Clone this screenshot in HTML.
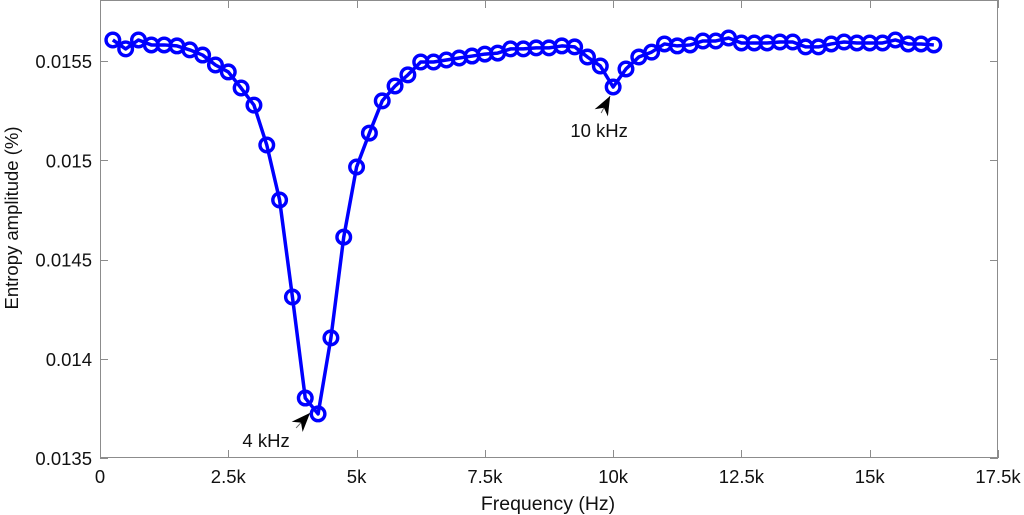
<!DOCTYPE html>
<html><head><meta charset="utf-8"><style>
html,body{margin:0;padding:0;background:#fff;}
svg{display:block;font-family:"Liberation Sans",Arial,sans-serif;}
</style></head><body>
<svg id="chart" width="1024" height="515"></svg>
<script>
const freqs=[250,500,750,1000,1250,1500,1750,2000,2250,2500,2750,3000,3250,3500,3750,4000,4250,4500,4750,5000,5250,5500,5750,6000,6250,6500,6750,7000,7250,7500,7750,8000,8250,8500,8750,9000,9250,9500,9750,10000,10250,10500,10750,11000,11250,11500,11750,12000,12250,12500,12750,13000,13250,13500,13750,14000,14250,14500,14750,15000,15250,15500,15750,16000,16250];
const values=[0.015606,0.015561,0.015606,0.015581,0.015581,0.015576,0.015556,0.015530,0.015480,0.015445,0.015364,0.015278,0.015077,0.014800,0.014311,0.013802,0.013722,0.014105,0.014613,0.014966,0.015137,0.015299,0.015374,0.015430,0.015495,0.015495,0.015505,0.015515,0.015525,0.015535,0.015540,0.015561,0.015561,0.015566,0.015566,0.015576,0.015571,0.015520,0.015475,0.015369,0.015460,0.015520,0.015545,0.015586,0.015576,0.015581,0.015601,0.015601,0.015616,0.015591,0.015591,0.015591,0.015596,0.015596,0.015571,0.015571,0.015586,0.015596,0.015591,0.015591,0.015591,0.015606,0.015586,0.015586,0.015581];
const xTicks=[0,2500,5000,7500,10000,12500,15000,17500];
const xTickLabels=["0","2.5k","5k","7.5k","10k","12.5k","15k","17.5k"];
const yTicks=[0.0135,0.014,0.0145,0.015,0.0155];
const yTickLabels=["0.0135","0.014","0.0145","0.015","0.0155"];
const annotations=[{f:4250,v:0.013722,label:"4 kHz"},{f:10000,v:0.015369,label:"10 kHz"}];
const annotationOffsets=[{tip:[-8,-1],tail:[-22,14],text:[-52,33]},{tip:[-3,9],tail:[-12,26],text:[-14,50]}];

const NS="http://www.w3.org/2000/svg";
const svg=document.getElementById('chart');
const L=100,R=998,T=0,B=458;
const xMin=0,xMax=17500,yMin=0.0135,yMax=0.0158074;
const X=f=>L+(f-xMin)/(xMax-xMin)*(R-L);
const Y=v=>B-(v-yMin)/(yMax-yMin)*(B-T);
function mk(tag,attrs,parent){const e=document.createElementNS(NS,tag);for(const k in attrs)e.setAttribute(k,attrs[k]);(parent||svg).appendChild(e);return e;}

const frame=mk('rect',{x:L+0.5,y:T+0.5,width:R-L-1,height:B-T-1,fill:'none',stroke:'#8c8c8c','stroke-width':1});



xTicks.forEach((t,i)=>{
  const x=Math.round(X(t))+0.5;
  const tk=mk('path',{d:`M${x},${B}v-8M${x},${T}v8`,stroke:'#8c8c8c'});
  
  
  const tx=mk('text',{x:X(t),y:483,'font-size':18.5,'text-anchor':'middle',fill:'#111'});
  tx.textContent=xTickLabels[i];
  
  
});
yTicks.forEach((t,i)=>{
  const y=Math.round(Y(t))+0.5;
  const tk=mk('path',{d:`M${L},${y}h8M${R},${y}h-8`,stroke:'#8c8c8c'});
  
  
  const tx=mk('text',{x:92,y:Y(t)+7,'font-size':18.5,'text-anchor':'end',fill:'#111'});
  tx.textContent=yTickLabels[i];
  
  
});

const xl=mk('text',{x:548,y:510,'font-size':19.5,'text-anchor':'middle',fill:'#111'});
xl.textContent='Frequency (Hz)';


const yl=mk('text',{x:0,y:0,'font-size':18.5,'text-anchor':'middle',fill:'#111',transform:'translate(18,218) rotate(-90)'});
yl.textContent='Entropy amplitude (%)';



const line=mk('polyline',{points:freqs.map((f,i)=>X(f)+','+Y(values[i])).join(' '),fill:'none',stroke:'#0000ff','stroke-width':3.5,'stroke-linejoin':'round'});


freqs.forEach((f,i)=>{
  const c=mk('circle',{cx:X(f),cy:Y(values[i]),r:6.8,fill:'none',stroke:'#0000ff','stroke-width':3.4});
  
  
});

annotations.forEach((a,i)=>{
  const px=X(a.f),py=Y(a.v),o=annotationOffsets[i];
  const tx=px+o.tip[0],ty=py+o.tip[1],bx=px+o.tail[0],by=py+o.tail[1];
  const g=mk('g',{});
  
  
  mk('line',{x1:tx,y1:ty,x2:bx,y2:by,stroke:'#666','stroke-width':1},g);
  const dx=bx-tx,dy=by-ty,len=Math.hypot(dx,dy),ux=dx/len,uy=dy/len,nx=-uy,ny=ux;
  const hl=19,hw=7.5;
  const p1=[tx+ux*hl+nx*hw,ty+uy*hl+ny*hw],p2=[tx+ux*hl*0.7,ty+uy*hl*0.7],p3=[tx+ux*hl-nx*hw,ty+uy*hl-ny*hw];
  mk('polygon',{points:`${tx},${ty} ${p1} ${p2} ${p3}`,fill:'#000'},g);
  const t=mk('text',{x:px+o.text[0],y:py+o.text[1],'font-size':18.5,'text-anchor':'middle',fill:'#111'},g);
  t.textContent=a.label;
});
</script>
</body></html>
